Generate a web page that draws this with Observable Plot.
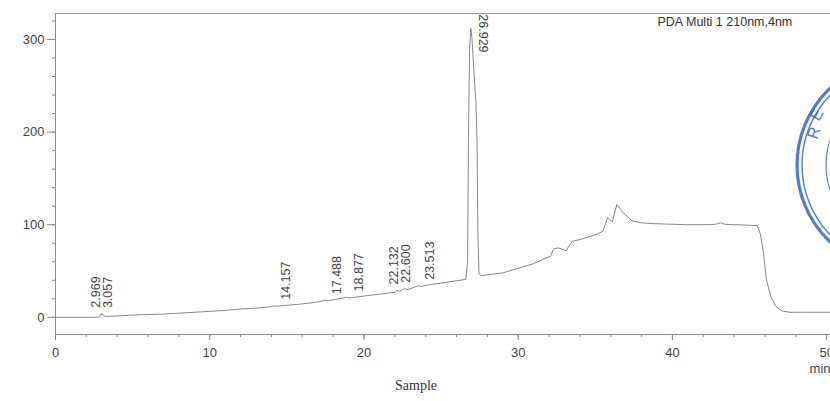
<!DOCTYPE html>
<html>
<head>
<meta charset="utf-8">
<script src="https://cdn.jsdelivr.net/npm/d3@7"></script>
<script src="https://cdn.jsdelivr.net/npm/@observablehq/plot@0.6"></script>
<style>
  html, body { margin: 0; padding: 0; background: #fff; }
  body { width: 830px; height: 401px; overflow: hidden; position: relative; font-family: "Liberation Sans", Arial, sans-serif; }
  #chart { position: absolute; left: 0; top: 0; }
  #stamp { position: absolute; left: 0; top: 0; pointer-events: none; }
</style>
</head>
<body>
<div id="chart"></div>
<svg id="stamp" width="830" height="401">
  <g fill="none" stroke="#3566c8" opacity="0.85">
    <circle cx="903" cy="165" r="106" stroke-width="3.2"></circle>
    <circle cx="903" cy="165" r="101" stroke-width="1.4"></circle>
    <circle cx="903" cy="165" r="77" stroke-width="1.2"></circle>
  </g>
  <g fill="#3566c8" opacity="0.85" font-family="Liberation Sans, Arial, sans-serif" font-size="16">
    <text transform="translate(817,140) rotate(-72)">R</text>
    <text transform="translate(819,122) rotate(-62)">E</text>
  </g>
</svg>
<script>
// ---- data ----
const traceTime = [0, 1, 2, 2.8, 2.97, 3.02, 3.06, 3.2, 4, 5, 6, 7, 8, 9, 10, 11, 12, 13, 14, 14.157, 14.4, 15, 16, 17, 17.488, 17.7, 18, 18.877, 19.1, 20, 21, 22, 22.132, 22.3, 22.6, 22.8, 23, 23.513, 23.7, 24, 25, 26, 26.6, 26.72, 26.78, 26.85, 26.93, 27.0, 27.08, 27.17, 27.26, 27.33, 27.39, 27.46, 27.6, 28, 29, 30, 31, 31.8, 32.1, 32.3, 32.6, 33.1, 33.5, 34, 35, 35.5, 35.8, 36.1, 36.4, 36.8, 37.4, 38, 39, 40, 41, 42, 42.8, 43.1, 43.4, 44, 45, 45.5, 45.7, 45.9, 46.1, 46.4, 46.7, 47.1, 47.6, 48.5, 50.25];
const traceSignal = [0, 0, 0, 0.3, 4, 2.5, 3.5, 1, 1.5, 2.5, 3, 3.5, 4.5, 5.5, 6.5, 7.5, 9, 10, 11.5, 12.5, 12, 13, 14.5, 16.5, 18.5, 18, 19, 21.5, 21, 23, 25, 27, 29, 28, 31, 30, 31, 34, 33.5, 34.5, 37, 39.5, 41, 60, 200, 290, 312, 302, 280, 255, 232, 190, 90, 47, 45, 46, 48, 53, 58, 64, 66, 74, 75, 72, 82, 84, 89, 93, 108, 103, 122, 113, 104, 102, 101, 100.5, 100, 100, 100.5, 102, 100.5, 100, 99.5, 99, 90, 70, 40, 22, 12, 7, 5.5, 5.5, 5.5];

const peakTimes = [2.969, 3.057, 14.157, 17.488, 18.877, 22.132, 22.600, 23.513, 26.929];
const peakLabels = ["2.969", "3.057", "14.157", "17.488", "18.877", "22.132", "22.600", "23.513", "26.929"];
const peakHeights = [4, 3.5, 12.5, 18.5, 21.5, 29, 31, 34, 312];

const xTicks = [0, 10, 20, 30, 40, 50];
const yTicks = [0, 100, 200, 300];
const xMinorTicks = d3.range(0, 51, 2);
const yMinorTicks = d3.range(0, 321, 20);

const xDomain = [0, 50.25];
const yDomain = [-18.5, 328];

const detectorText = "PDA Multi 1 210nm,4nm";
const xTitle = "Sample";
const xUnit = "min";

// ---- build tables ----
const trace = traceTime.map((t, i) => ({t, v: traceSignal[i]}));

// label placement: isolated labels sit just right of the apex,
// labels of peaks that are very close are spread around them
const marginLeft = 55, width = 830, marginRight = 0;
const xs = d3.scaleLinear(xDomain, [marginLeft, width - marginRight]);
const peaks = peakTimes.map((t, i) => ({t, label: peakLabels[i], h: peakHeights[i], px: xs(t)}));
const gap = 12;
const clusters = [];
peaks.forEach(p => {
  const last = clusters[clusters.length - 1];
  if (last && p.px - last[last.length - 1].px < gap) last.push(p);
  else clusters.push([p]);
});
clusters.forEach(c => {
  if (c.length === 1) { c[0].lx = xs.invert(c[0].px + 12); return; }
  const mean = d3.mean(c, p => p.px);
  c.forEach((p, i) => { p.lx = xs.invert(mean + (i - (c.length - 1) / 2) * gap); });
});
const smallPeaks = peaks.filter(p => p.h < 200);
const bigPeaks = peaks.filter(p => p.h >= 200);

const plot = Plot.plot({
  width: 830,
  height: 401,
  marginLeft: 55,
  marginRight: 0,
  marginTop: 13,
  marginBottom: 67,
  x: {domain: xDomain},
  y: {domain: yDomain},
  style: {fontFamily: "Liberation Sans, Arial, sans-serif", color: "#444", background: "transparent"},
  marks: [
    Plot.ruleY([yDomain[1]], {stroke: "#9a9a9a", strokeWidth: 1}),
    Plot.ruleY([yDomain[0]], {stroke: "#8a8a8a", strokeWidth: 1}),
    Plot.ruleX([xDomain[0]], {stroke: "#8a8a8a", strokeWidth: 1}),
    Plot.line(trace, {x: "t", y: "v", stroke: "#888", strokeWidth: 1}),
    Plot.text(smallPeaks, {x: "lx", y: "h", text: "label", rotate: -90, textAnchor: "start", lineAnchor: "middle", dy: -6, fontSize: 12.5, fill: "#444"}),
    Plot.text(bigPeaks, {x: "lx", y: "h", text: "label", rotate: 90, textAnchor: "start", lineAnchor: "middle", dy: -14, fontSize: 12.5, fill: "#444"}),
    Plot.axisY({ticks: yMinorTicks, tickSize: 3, tickFormat: () => "", label: null, stroke: "#888"}),
    Plot.axisY({ticks: yTicks, tickSize: 8, tickPadding: 3, fontSize: 13, label: null, stroke: "#888"}),
    Plot.axisX({ticks: xMinorTicks, tickSize: 3, tickFormat: () => "", label: null, stroke: "#888"}),
    Plot.axisX({ticks: xTicks, tickSize: 6, tickPadding: 7, fontSize: 13, label: null, stroke: "#888"}),
    Plot.text([detectorText], {frameAnchor: "top-left", textAnchor: "start", lineAnchor: "top", dx: 602, dy: 4, fontSize: 12.5, fill: "#333"}),
    Plot.text([xUnit], {frameAnchor: "bottom-right", textAnchor: "end", lineAnchor: "bottom", dy: 38, dx: 0, fontSize: 13, fill: "#444"}),
    Plot.text([xTitle], {frameAnchor: "bottom", lineAnchor: "middle", dx: -27, dy: 51, fontSize: 14, fontFamily: "Liberation Serif, Times New Roman, serif", fill: "#333"})
  ]
});
document.getElementById("chart").appendChild(plot);
</script>
</body>
</html>
